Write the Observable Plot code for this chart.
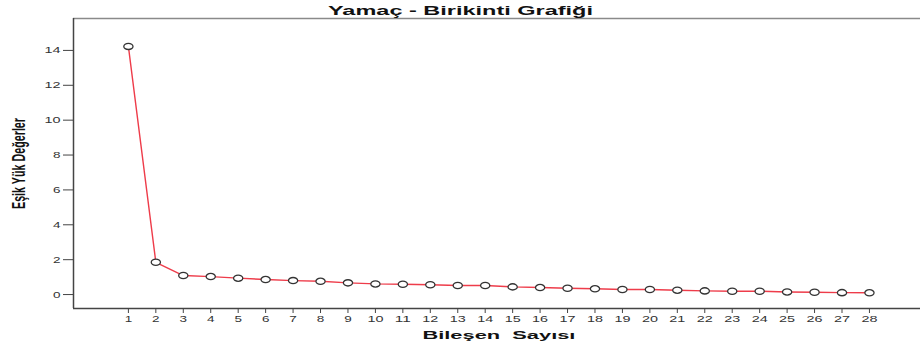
<!DOCTYPE html>
<html>
<head>
<meta charset="utf-8">
<script src="https://cdn.jsdelivr.net/npm/d3@7"></script>
<script src="https://cdn.jsdelivr.net/npm/@observablehq/plot@0.6"></script>
<style>
  html, body { margin: 0; padding: 0; background: #fff; }
  #chart svg { display: block; }
</style>
</head>
<body>
<div id="chart"></div>
<script>
const titleText = "Yamaç - Birikinti Grafiği";
const xLabel = "Bileşen  Sayısı";
const yLabel = "Eşik Yük Değerler";
const components = [1,2,3,4,5,6,7,8,9,10,11,12,13,14,15,16,17,18,19,20,21,22,23,24,25,26,27,28];
const eigenvalues = [14.23,1.85,1.09,1.03,0.94,0.86,0.80,0.76,0.67,0.61,0.59,0.56,0.52,0.52,0.44,0.40,0.36,0.33,0.29,0.29,0.25,0.21,0.19,0.19,0.15,0.13,0.11,0.10];
const yTicks = [0,2,4,6,8,10,12,14];

const data = components.map((c, i) => ({c, v: eigenvalues[i]}));
const xDomain = [-1.0, 29.86];
const yDomain = [-0.8, 15.83];

// ellipse marker (the reference is horizontally stretched)
const ellipse = {
  draw(ctx, size) {
    const r = Math.sqrt(size / Math.PI);
    const rx = r * 1.15, ry = r * 0.78, k = 0.5523;
    ctx.moveTo(rx, 0);
    ctx.bezierCurveTo(rx, ry * k, rx * k, ry, 0, ry);
    ctx.bezierCurveTo(-rx * k, ry, -rx, ry * k, -rx, 0);
    ctx.bezierCurveTo(-rx, -ry * k, -rx * k, -ry, 0, -ry);
    ctx.bezierCurveTo(rx * k, -ry, rx, -ry * k, rx, 0);
    ctx.closePath();
  }
};

const W = 920, H = 346, mL = 73, mT = 18, mB = 38, mR = 0;

const chart = Plot.plot({
  width: W,
  height: H,
  marginLeft: mL,
  marginTop: mT,
  marginBottom: mB,
  marginRight: mR,
  style: {fontFamily: "'Liberation Sans', Arial, sans-serif", background: "#fff", overflow: "visible"},
  x: {domain: xDomain, label: null},
  y: {domain: yDomain, label: null},
  marks: [
    Plot.ruleY([yDomain[1]], {stroke: "#8a8a8a", strokeWidth: 1.5}),
    Plot.ruleX([xDomain[0]], {stroke: "#444", strokeWidth: 1.5}),
    Plot.ruleY([yDomain[0]], {stroke: "#444", strokeWidth: 1.5}),
    Plot.axisY({ticks: yTicks, tickSize: 10, tickPadding: 3, tickFormat: d => String(d), fontSize: 9.3, stroke: "#444", fill: "#333", label: null}),
    Plot.axisX({ticks: components, tickSize: 5, tickPadding: 2, tickFormat: d => String(d), fontSize: 9.3, stroke: "#444", fill: "#333", label: null}),
    Plot.line(data, {x: "c", y: "v", stroke: "#ee3c4a", strokeWidth: 1.4}),
    Plot.dot(data, {x: "c", y: "v", r: 4, symbol: ellipse, stroke: "#333", strokeWidth: 1.3, fill: "white"}),
    Plot.text([titleText], {text: d => d, frameAnchor: "top", lineAnchor: "middle", textAnchor: "middle", dx: W / 2 - (mL + (W - mR)) / 2, dy: -8, fontSize: 12.5, fontWeight: "bold", fill: "#111"}),
    Plot.text([yLabel], {text: d => d, frameAnchor: "left", lineAnchor: "middle", textAnchor: "middle", dx: -54.1, rotate: -90, fontSize: 19, fontWeight: "bold", fill: "#111"}),
    Plot.text([xLabel], {text: d => d, x: d3.mean([components[0], components[components.length - 1]]), frameAnchor: "bottom", lineAnchor: "middle", textAnchor: "middle", dy: 26.6, fontSize: 11.5, fontWeight: "bold", fill: "#111"})
  ]
});

// stretch texts horizontally like the reference rendering
const stretch = {[titleText]: 265, [xLabel]: 153, [yLabel]: 91};
d3.select(chart).selectAll("text").each(function() {
  const t = this.textContent;
  let len = stretch[t];
  if (len == null && /^\d+$/.test(t)) len = t.length === 1 ? 7.5 : 16;
  if (len != null) {
    this.setAttribute("textLength", len);
    this.setAttribute("lengthAdjust", "spacingAndGlyphs");
  }
});
document.getElementById("chart").appendChild(chart);
</script>
</body>
</html>
